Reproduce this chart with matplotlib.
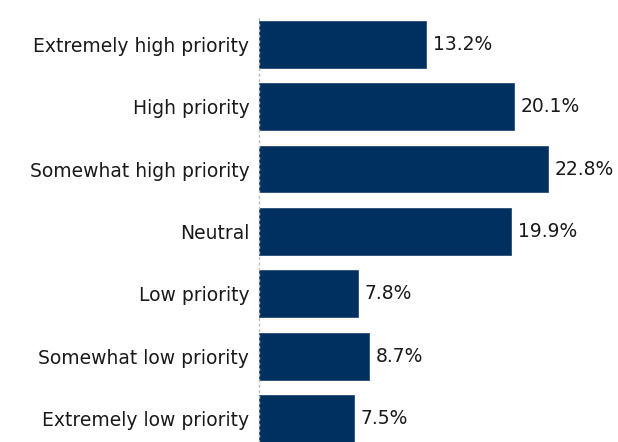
import matplotlib
matplotlib.use("Agg")
from matplotlib import pyplot as plt

categories = ["Extremely high priority", "High priority", "Somewhat high priority",
              "Neutral", "Low priority", "Somewhat low priority", "Extremely low priority"]
values = [13.2, 20.1, 22.8, 19.9, 7.8, 8.7, 7.5]

fig = plt.figure(figsize=(6.18, 4.42), dpi=100)
ax = fig.add_axes([259 / 618, 0, 1 - 259 / 618, 1 - 16 / 442])

pos = list(range(len(categories)))
ax.barh(pos, values, height=0.75, color="#00305f", edgecolor="#2a4d78", linewidth=0.6)

for p, v in zip(pos, values):
    ax.annotate(f"{v}%", (v, p), xytext=(5, 0), textcoords="offset points",
                va="center", ha="left", fontsize=13.5, color="#1a1a1a")

ax.set_yticks(pos)
ax.set_yticklabels(categories, fontsize=13.5, color="#1a1a1a")
ax.tick_params(axis="y", length=0, pad=7)
ax.set_xticks([])
ax.set_xlim(0, 359 / 12.67)
ax.set_ylim(6.377, -0.455)

for s in ["top", "right", "bottom"]:
    ax.spines[s].set_visible(False)
ax.spines["left"].set_linestyle((0, (1, 3)))
ax.spines["left"].set_color("#bbbbbb")
ax.spines["left"].set_linewidth(1)

fig.savefig("out.png", dpi=100)
